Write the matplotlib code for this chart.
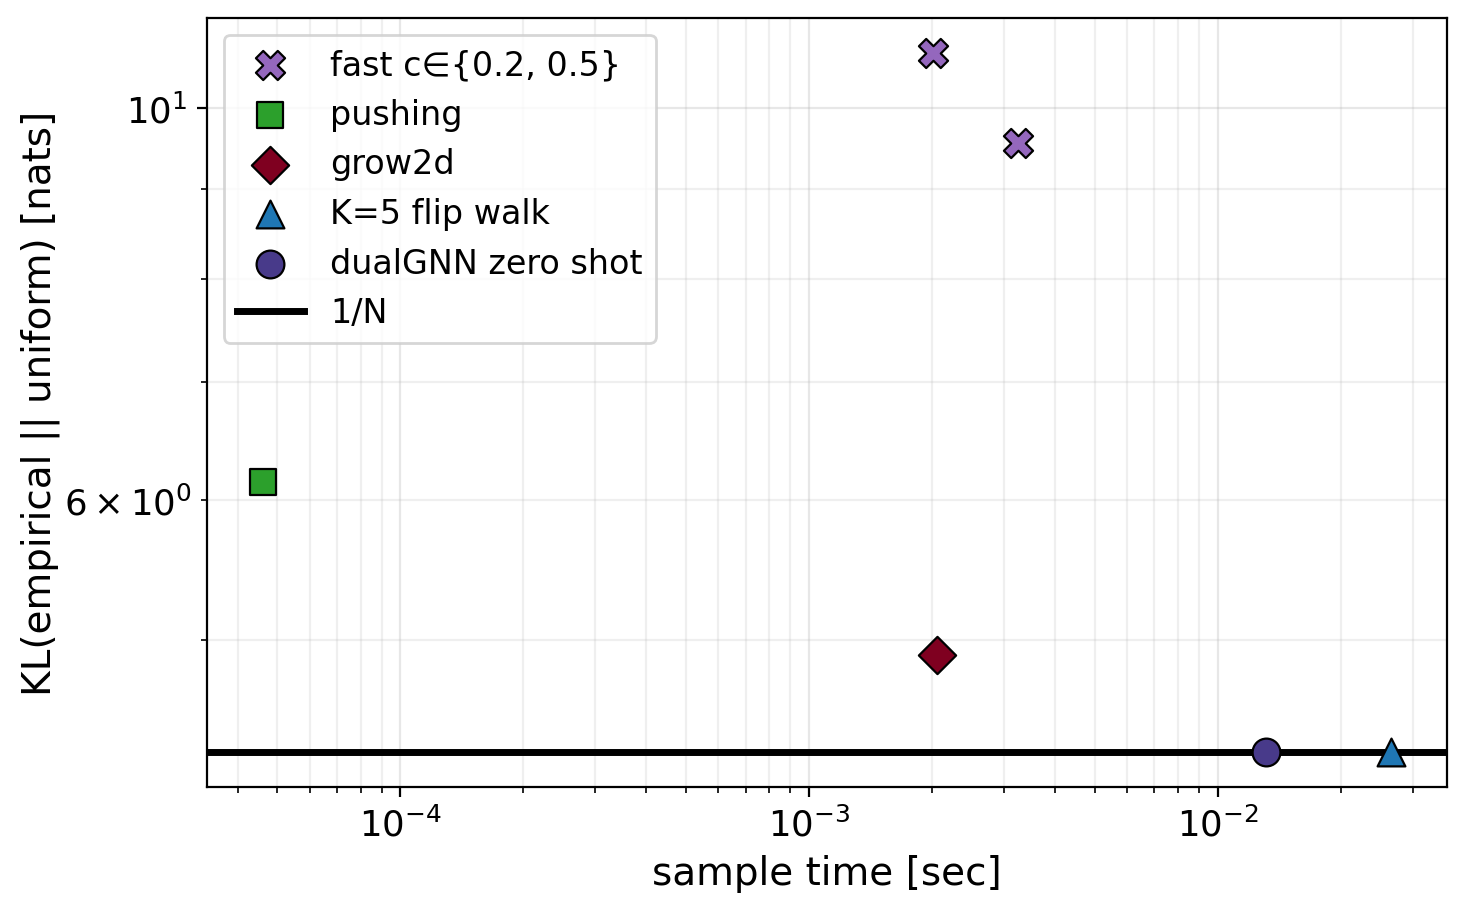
import matplotlib.pyplot as plt
import numpy as np

# Sampler timings (sec per sample) and KL to uniform (nats).
fast_time = [2.01e-3, 3.25e-3]
fast_kl = [10.74, 9.55]
pushing_time = [4.62e-5]
pushing_kl = [6.14]
grow2d_time = [2.06e-3]
grow2d_kl = [4.90]
flip_time = [2.65e-2]
flip_kl = [4.32]
dualgnn_time = [1.31e-2]
dualgnn_kl = [4.32]
one_over_n = 4.32

fig, ax = plt.subplots(figsize=(7.34, 4.56), dpi=200)
fig.subplots_adjust(left=0.141, right=0.9857, top=0.979, bottom=0.136)

# Plot samplers.
ax.scatter(fast_time, fast_kl, marker="X", s=110, color="#9467bd", edgecolor="k", linewidth=0.8,
           label="fast c\u2208{0.2, 0.5}", zorder=3)
ax.scatter(pushing_time, pushing_kl, marker="s", s=90, color="#2ca02c", edgecolor="k", linewidth=0.8,
           label="pushing", zorder=3)
ax.scatter(grow2d_time, grow2d_kl, marker="D", s=90, color="#7f0020", edgecolor="k", linewidth=0.8,
           label="grow2d", zorder=3)
ax.scatter(flip_time, flip_kl, marker="^", s=100, color="#1f77b4", edgecolor="k", linewidth=0.8,
           label="K=5 flip walk", zorder=3)
ax.scatter(dualgnn_time, dualgnn_kl, marker="o", s=100, color="#483a8a", edgecolor="k", linewidth=0.8,
           label="dualGNN zero shot", zorder=3)
ax.axhline(one_over_n, color="k", linewidth=2.5, label="1/N", zorder=2)

# Labels, scales and grid.
ax.set_xscale("log")
ax.set_yscale("log")
ax.set_xlabel("sample time [sec]", fontsize=14)
ax.set_ylabel("KL(empirical || uniform) [nats]", fontsize=14, labelpad=1.5)
ax.tick_params(which="both", labelsize=12.8)
ax.grid(which="major", alpha=0.3)
ax.grid(which="minor", alpha=0.2)
ax.legend(loc="upper left", fontsize=12)

plt.savefig("out.png")
plt.close()
